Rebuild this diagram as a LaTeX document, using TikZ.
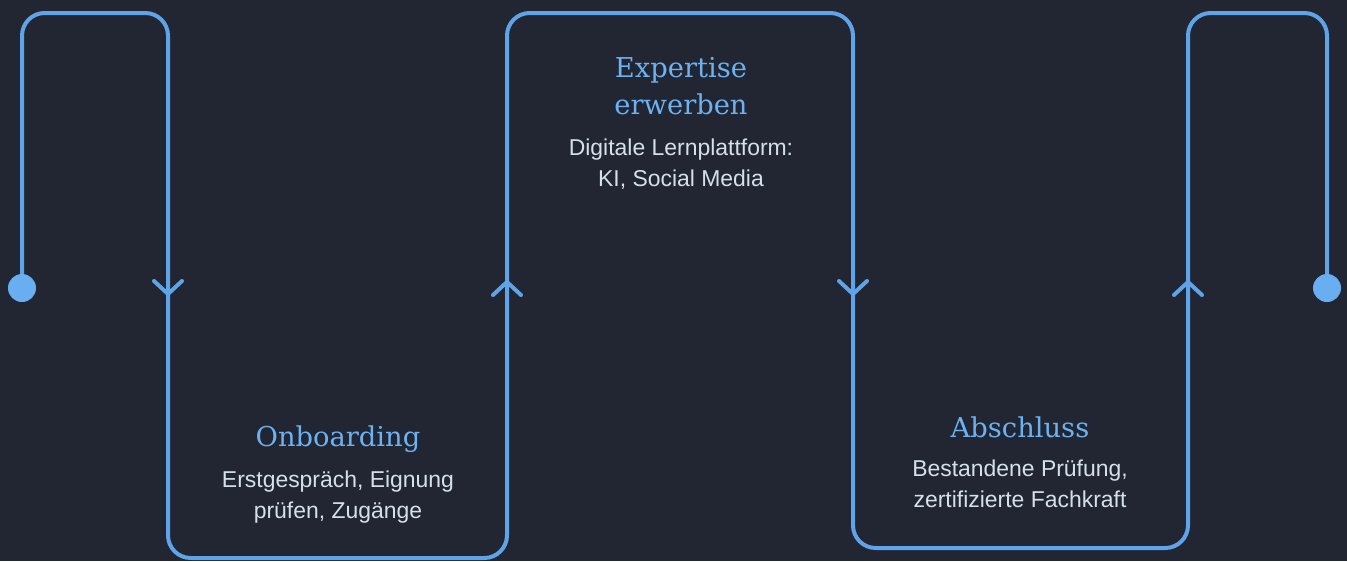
\documentclass[tikz,border=0pt]{standalone}
\usepackage{fontspec}
\setmainfont{Liberation Sans}
\newfontfamily\slabfont{DejaVu Serif}
\usetikzlibrary{positioning}
\definecolor{bgcol}{HTML}{212632}
\definecolor{flowcol}{HTML}{5FA3E8}
\definecolor{dotcol}{HTML}{69AEF0}
\definecolor{titlecol}{HTML}{6CB2F2}
\definecolor{bodycol}{HTML}{D5E0EA}
\tikzset{
  flow/.style={draw=flowcol, line width=3pt, line cap=round, line join=round},
  stagetitle/.style={inner sep=0pt, text=titlecol, align=center, font=\slabfont\fontsize{20.5}{27.8}\selectfont},
  stagebody/.style={inner sep=0pt, text=bodycol, align=center, font=\fontsize{17.2}{22.8}\selectfont},
}
\begin{document}
\begin{tikzpicture}[x=.75pt, y=-.75pt]
\fill[bgcol](0,0)rectangle(1347,561);
\useasboundingbox(0,0)rectangle(1347,561);

\coordinate (start) at (22,288);
\coordinate (end) at (1327,288);
\draw[flow, rounded corners=17pt](start)--(22,13)--(168,13)--(168,558)--(507,558)--(507,13)
    --(853,13)--(853,548)--(1188,548)--(1188,13)--(1327,13)--(end);
\fill[dotcol](start)circle(10.5pt);
\fill[dotcol](end)circle(10.5pt);

% chevrons, d=1 down, d=-1 up
\foreach \x/\d in {168/1,507/-1,853/1,1188/-1}
{
    \draw[flow](\x-14,288-7*\d)--(\x,288+6*\d)--(\x+14,288-7*\d);
}

\node[stagetitle, anchor=base](onb) at (338,446){Onboarding};
\node[stagebody, anchor=north](onbtext) at (338,471){Erstgespräch, Eignung\\prüfen, Zugänge};

\node[stagetitle, anchor=north](exp) at (681,57){Expertise\\erwerben};
\node[stagebody, anchor=north](exptext) at (681,139){Digitale Lernplattform:\\KI, Social Media};

\node[stagetitle, anchor=base](abs) at (1020,437){Abschluss};
\node[stagebody, anchor=north](abstext) at (1020,460){Bestandene Prüfung,\\zertifizierte Fachkraft};

\end{tikzpicture}
\end{document}
